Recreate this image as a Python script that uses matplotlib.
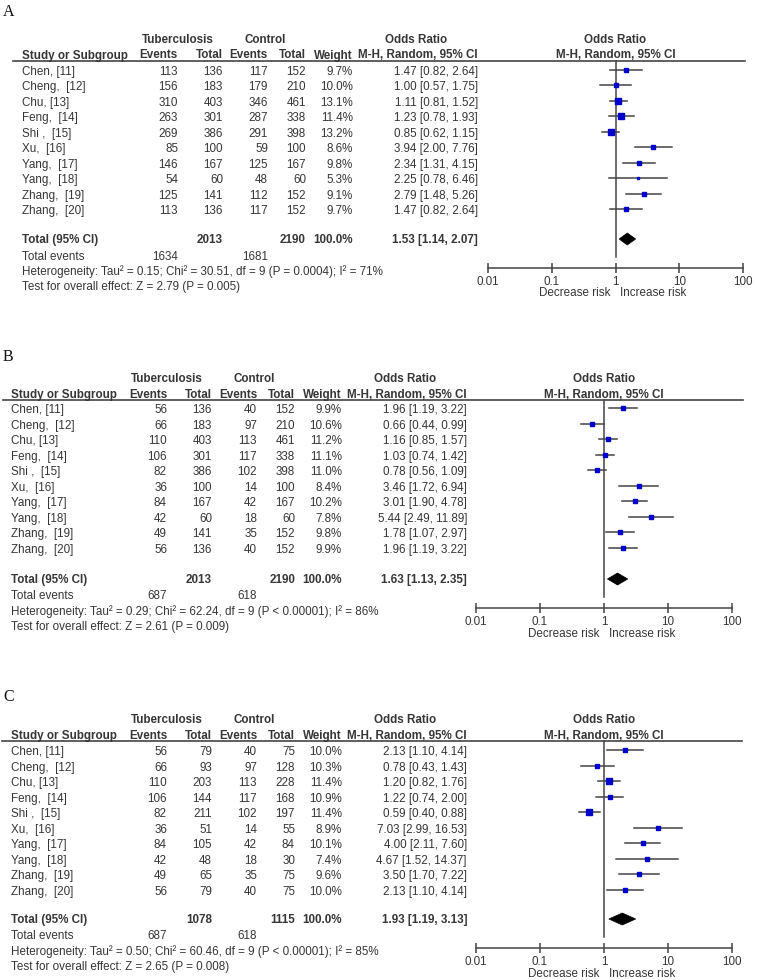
import matplotlib
matplotlib.use("Agg")
import matplotlib.pyplot as plt
from matplotlib.patches import Polygon

W, H = 757, 980
plt.rcParams['font.family'] = ['Liberation Sans', 'DejaVu Sans']
TXT = '#363636'
FS = 8.4

studies = ["Chen, [11]", "Cheng,  [12]", "Chu, [13]", "Feng,  [14]", "Shi ,  [15]",
           "Xu,  [16]", "Yang,  [17]", "Yang,  [18]", "Zhang,  [19]", "Zhang,  [20]"]

# Panel A
a_ev_tb = [113, 156, 310, 263, 269, 85, 146, 54, 125, 113]
a_tot_tb = [136, 183, 403, 301, 386, 100, 167, 60, 141, 136]
a_ev_ct = [117, 179, 346, 287, 291, 59, 125, 48, 112, 117]
a_tot_ct = [152, 210, 461, 338, 398, 100, 167, 60, 152, 152]
a_weight = [9.7, 10.0, 13.1, 11.4, 13.2, 8.6, 9.8, 5.3, 9.1, 9.7]
a_or = [1.47, 1.00, 1.11, 1.23, 0.85, 3.94, 2.34, 2.25, 2.79, 1.47]
a_lo = [0.82, 0.57, 0.81, 0.78, 0.62, 2.00, 1.31, 0.78, 1.48, 0.82]
a_hi = [2.64, 1.75, 1.52, 1.93, 1.15, 7.76, 4.15, 6.46, 5.26, 2.64]
a_total = [2013, 2190, 1.53, 1.14, 2.07]
a_events = [1634, 1681]
a_het = "Heterogeneity: Tau\u00b2 = 0.15; Chi\u00b2 = 30.51, df = 9 (P = 0.0004); I\u00b2 = 71%"
a_test = "Test for overall effect: Z = 2.79 (P = 0.005)"

# Panel B
b_ev_tb = [56, 66, 110, 106, 82, 36, 84, 42, 49, 56]
b_tot_tb = [136, 183, 403, 301, 386, 100, 167, 60, 141, 136]
b_ev_ct = [40, 97, 113, 117, 102, 14, 42, 18, 35, 40]
b_tot_ct = [152, 210, 461, 338, 398, 100, 167, 60, 152, 152]
b_weight = [9.9, 10.6, 11.2, 11.1, 11.0, 8.4, 10.2, 7.8, 9.8, 9.9]
b_or = [1.96, 0.66, 1.16, 1.03, 0.78, 3.46, 3.01, 5.44, 1.78, 1.96]
b_lo = [1.19, 0.44, 0.85, 0.74, 0.56, 1.72, 1.90, 2.49, 1.07, 1.19]
b_hi = [3.22, 0.99, 1.57, 1.42, 1.09, 6.94, 4.78, 11.89, 2.97, 3.22]
b_total = [2013, 2190, 1.63, 1.13, 2.35]
b_events = [687, 618]
b_het = "Heterogeneity: Tau\u00b2 = 0.29; Chi\u00b2 = 62.24, df = 9 (P < 0.00001); I\u00b2 = 86%"
b_test = "Test for overall effect: Z = 2.61 (P = 0.009)"

# Panel C
c_ev_tb = [56, 66, 110, 106, 82, 36, 84, 42, 49, 56]
c_tot_tb = [79, 93, 203, 144, 211, 51, 105, 48, 65, 79]
c_ev_ct = [40, 97, 113, 117, 102, 14, 42, 18, 35, 40]
c_tot_ct = [75, 128, 228, 168, 197, 55, 84, 30, 75, 75]
c_weight = [10.0, 10.3, 11.4, 10.9, 11.4, 8.9, 10.1, 7.4, 9.6, 10.0]
c_or = [2.13, 0.78, 1.20, 1.22, 0.59, 7.03, 4.00, 4.67, 3.50, 2.13]
c_lo = [1.10, 0.43, 0.82, 0.74, 0.40, 2.99, 2.11, 1.52, 1.70, 1.10]
c_hi = [4.14, 1.43, 1.76, 2.00, 0.88, 16.53, 7.60, 14.37, 7.22, 4.14]
c_total = [1078, 1115, 1.93, 1.19, 3.13]
c_events = [687, 618]
c_het = "Heterogeneity: Tau\u00b2 = 0.50; Chi\u00b2 = 60.46, df = 9 (P < 0.00001); I\u00b2 = 85%"
c_test = "Test for overall effect: Z = 2.65 (P = 0.008)"

panels = [
    dict(label="A", ly=12, lx=3, dx=0, uline=61, row0=72, step=15.45, tot=240,
         ev=257, het=272, test=287, fx0=488, fx1=743, axis=268, risk=293, ul_x0=13, ul_x1=745,
         ev_tb=a_ev_tb, tot_tb=a_tot_tb, ev_ct=a_ev_ct, tot_ct=a_tot_ct, w=a_weight,
         orv=a_or, lo=a_lo, hi=a_hi, total=a_total, events=a_events, hetx=a_het, testx=a_test),
    dict(label="B", ly=357, lx=3, dx=-11, uline=400, row0=410, step=15.55, tot=580,
         ev=596, het=612, test=627, fx0=476, fx1=732, axis=608, risk=634, ul_x0=3, ul_x1=743,
         ev_tb=b_ev_tb, tot_tb=b_tot_tb, ev_ct=b_ev_ct, tot_ct=b_tot_ct, w=b_weight,
         orv=b_or, lo=b_lo, hi=b_hi, total=b_total, events=b_events, hetx=b_het, testx=b_test),
    dict(label="C", ly=697, lx=3, dx=-11, uline=741, row0=752, step=15.55, tot=920,
         ev=936, het=952, test=967, fx0=476, fx1=732, axis=948, risk=974, ul_x0=2, ul_x1=742,
         ev_tb=c_ev_tb, tot_tb=c_tot_tb, ev_ct=c_ev_ct, tot_ct=c_tot_ct, w=c_weight,
         orv=c_or, lo=c_lo, hi=c_hi, total=c_total, events=c_events, hetx=c_het, testx=c_test),
]

fig = plt.figure(figsize=(W / 100, H / 100), dpi=100)
fig.patch.set_facecolor('white')
bg = fig.add_axes([0, 0, 1, 1])
bg.set_xlim(0, W)
bg.set_ylim(H, 0)
bg.axis('off')


def t(x, y, s, ha='left', bold=False, **kw):
    bg.text(x, y, s, ha=ha, va='center', fontsize=FS, color=TXT,
            fontweight='bold' if bold else 'normal', **kw)


for p in panels:
    dx = p['dx']
    c_study = 22 + dx
    c_ev1, c_tot1, c_ev2, c_tot2, c_w, c_or = [v + dx for v in (178, 223, 268, 306, 353, 478)]
    one_x = p['fx0'] + (p['fx1'] - p['fx0']) / 2.0
    bg.text(p['lx'], p['ly'], p['label'], ha='left', va='center', fontsize=11.5,
            family='Liberation Serif', color='#111111')
    h2 = p['uline'] - 5.5
    h1 = h2 - 15.5
    t(178 + dx, h1, "Tuberculosis", ha='center', bold=True)
    t(265 + dx, h1, "Control", ha='center', bold=True)
    t(416 + dx, h1, "Odds Ratio", ha='center', bold=True)
    t(one_x, h1, "Odds Ratio", ha='center', bold=True)
    t(c_study, h2, "Study or Subgroup", bold=True)
    t(c_ev1, h2, "Events", ha='right', bold=True)
    t(c_tot1, h2, "Total", ha='right', bold=True)
    t(c_ev2, h2, "Events", ha='right', bold=True)
    t(c_tot2, h2, "Total", ha='right', bold=True)
    t(c_w, h2, "Weight", ha='right', bold=True)
    t(c_or, h2, "M-H, Random, 95% CI", ha='right', bold=True)
    t(one_x, h2, "M-H, Random, 95% CI", ha='center', bold=True)
    bg.plot([p['ul_x0'], p['ul_x1']], [p['uline'], p['uline']], color='#444444', lw=1.2)

    rows = [p['row0'] + i * p['step'] for i in range(len(studies))]
    for i, y in enumerate(rows):
        t(c_study, y, studies[i])
        t(c_ev1, y, str(p['ev_tb'][i]), ha='right')
        t(c_tot1, y, str(p['tot_tb'][i]), ha='right')
        t(c_ev2, y, str(p['ev_ct'][i]), ha='right')
        t(c_tot2, y, str(p['tot_ct'][i]), ha='right')
        t(c_w, y, f"{p['w'][i]:.1f}%", ha='right')
        t(c_or, y, f"{p['orv'][i]:.2f} [{p['lo'][i]:.2f}, {p['hi'][i]:.2f}]", ha='right')

    tot = p['total']
    t(c_study, p['tot'], "Total (95% CI)", bold=True)
    t(c_tot1, p['tot'], str(tot[0]), ha='right', bold=True)
    t(c_tot2, p['tot'], str(tot[1]), ha='right', bold=True)
    t(c_w, p['tot'], "100.0%", ha='right', bold=True)
    t(c_or, p['tot'], f"{tot[2]:.2f} [{tot[3]:.2f}, {tot[4]:.2f}]", ha='right', bold=True)
    t(c_study, p['ev'], "Total events")
    t(c_ev1, p['ev'], str(p['events'][0]), ha='right')
    t(c_ev2, p['ev'], str(p['events'][1]), ha='right')
    t(c_study, p['het'], p['hetx'])
    t(c_study, p['test'], p['testx'])

    # forest axes
    yt, yb = p['uline'], p['axis']
    ax = fig.add_axes([p['fx0'] / W, 1 - yb / H, (p['fx1'] - p['fx0']) / W, (yb - yt) / H])
    ax.set_xscale('log')
    ax.set_xlim(0.01, 100)
    ax.set_ylim(yb, yt)
    ax.patch.set_alpha(0)
    for s in ('top', 'left', 'right'):
        ax.spines[s].set_visible(False)
    ax.spines['bottom'].set_color('#444444')
    ax.spines['bottom'].set_linewidth(1.1)
    ax.set_yticks([])
    ax.set_xticks([0.01, 0.1, 1, 10, 100])
    ax.set_xticklabels(['0.01', '0.1', '1', '10', '100'])
    ax.minorticks_off()
    ax.tick_params(axis='x', direction='inout', length=7, width=1.1, color='#444444',
                   labelsize=FS, labelcolor=TXT, pad=2)
    ax.plot([1, 1], [yt, yb - 11], color='#444444', lw=1.1, clip_on=False)
    for i, y in enumerate(rows):
        yy = y - 2
        ax.plot([p['lo'][i], p['hi'][i]], [yy, yy], color='#444444', lw=1.1, clip_on=False)
        side = max(2.6, 0.44 * p['w'][i])
        ax.plot([p['orv'][i]], [yy], marker='s', ms=side * 0.72, color='#0000cc',
                mec='#0000cc', clip_on=False, zorder=3)
    ty = p['tot'] - 1
    dia = Polygon([(tot[3], ty), (tot[2], ty - 6), (tot[4], ty), (tot[2], ty + 6)],
                  closed=True, facecolor='black', edgecolor='black', lw=0.5, clip_on=False)
    ax.add_patch(dia)
    t(one_x - 5, p['risk'], "Decrease risk", ha='right')
    t(one_x + 5, p['risk'], "Increase risk", ha='left')

fig.savefig("out.png", dpi=100, facecolor='white')
